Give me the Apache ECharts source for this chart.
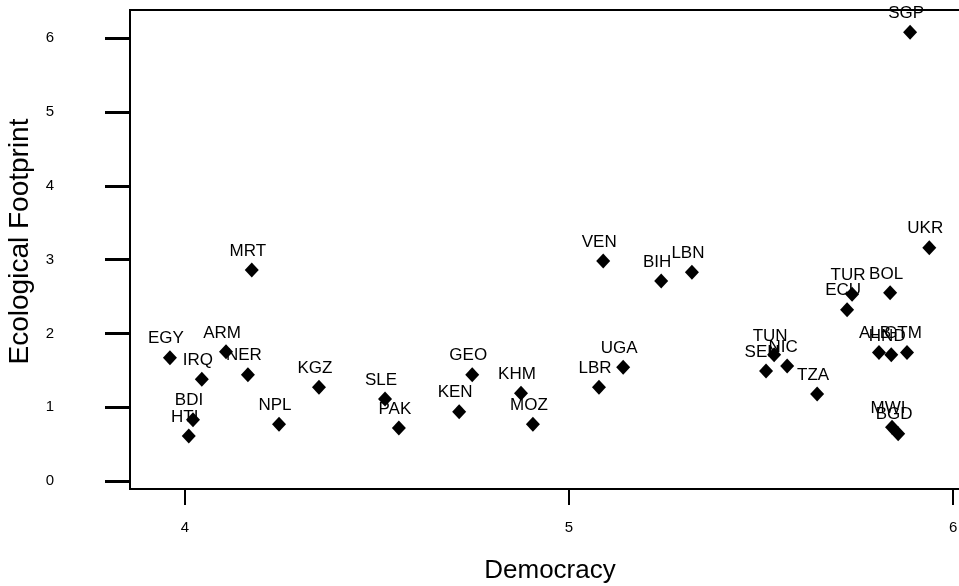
<!DOCTYPE html>
<html>
<head>
<meta charset="utf-8">
<script src="https://cdn.jsdelivr.net/npm/echarts@6/dist/echarts.min.js"></script>
<style>html,body{margin:0;padding:0;background:#fff;}#c{width:959px;height:586px;}</style>
</head>
<body>
<div id="c"></div>
<script>
const countries = ["EGY","IRQ","ARM","NER","MRT","BDI","HTI","NPL","KGZ","SLE","PAK","GEO","KEN","KHM","MOZ","VEN","BIH","LBN","UGA","LBR","TUN","SEN","NIC","TZA","TUR","ECU","BOL","UKR","ALB","HND","GTM","MWI","BGD","SGP"];
const democracy = [3.961,4.044,4.107,4.164,4.174,4.021,4.010,4.245,4.349,4.521,4.557,4.748,4.714,4.875,4.906,5.089,5.240,5.320,5.141,5.078,5.534,5.513,5.568,5.646,5.737,5.724,5.836,5.938,5.807,5.839,5.880,5.841,5.857,5.888];
const footprint = [1.67,1.38,1.75,1.44,2.86,0.83,0.61,0.77,1.27,1.11,0.72,1.44,0.94,1.19,0.77,2.98,2.71,2.83,1.54,1.27,1.71,1.49,1.56,1.18,2.53,2.32,2.55,3.16,1.74,1.71,1.74,0.73,0.64,6.08];
const xTicks = [4,5,6];
const yTicks = [0,1,2,3,4,5,6];

const pts = countries.map((n,i)=>({name:n, value:[democracy[i], footprint[i]]}));
const FONT = '"Liberation Sans", Arial, sans-serif';
const chart = echarts.init(document.getElementById('c'), null, {renderer:'canvas'});
chart.setOption({
  animation:false,
  backgroundColor:'#fff',
  grid:{left:130, top:10, width:840, height:479, show:true, borderColor:'#000', borderWidth:2, containLabel:false, outerBoundsMode:'none'},
  xAxis:{
    type:'value', min:3.857, max:6.044,
    name:'Democracy', nameLocation:'middle', nameGap:69,
    nameTextStyle:{fontFamily:FONT, fontSize:26, color:'#000'},
    axisLine:{show:true, onZero:false, lineStyle:{color:'#000', width:2}},
    axisTick:{show:true, inside:false, length:16, customValues:xTicks, lineStyle:{color:'#000', width:2}},
    axisLabel:{show:true, customValues:xTicks, margin:31, fontFamily:FONT, fontSize:15, color:'#000'},
    splitLine:{show:false}
  },
  yAxis:{
    type:'value', min:-0.108, max:6.382,
    name:'Ecological Footprint', nameLocation:'middle', nameGap:91,
    nameTextStyle:{fontFamily:FONT, fontSize:28, color:'#000', padding:[0,0,0,16]},
    axisLine:{show:true, onZero:false, lineStyle:{color:'#000', width:2}},
    axisTick:{show:true, inside:false, length:25, customValues:yTicks, lineStyle:{color:'#000', width:3}},
    axisLabel:{show:true, customValues:yTicks, margin:76, fontFamily:FONT, fontSize:15, color:'#000'},
    splitLine:{show:false}
  },
  series:[{
    type:'scatter',
    data:pts,
    symbol:'diamond',
    symbolSize:[14,15],
    itemStyle:{color:'#000', opacity:1},
    label:{show:true, position:'top', distance:3, offset:[-4,0], formatter:'{b}', fontFamily:FONT, fontSize:17, color:'#000'}
  }]
});
</script>
</body>
</html>
